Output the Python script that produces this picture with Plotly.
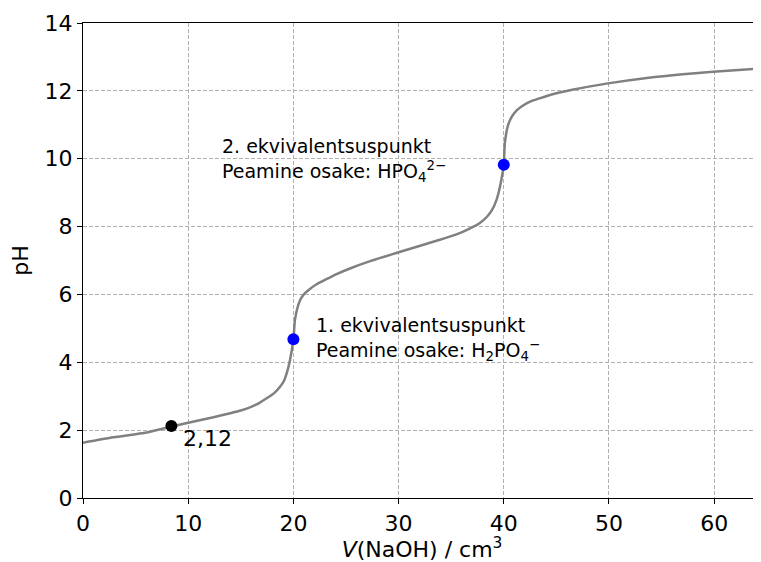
import plotly.graph_objects as go

# Titration curve
volume = [0, 2.9, 6.05, 8.34, 10.0, 12.4, 14.0, 15.0, 15.87, 16.7, 17.46, 18.2, 18.73, 19.1,
          19.36, 19.68, 20.0, 20.15, 20.47, 20.75, 21.1, 21.6, 22.2, 23.2, 24.1, 25.5, 27.3,
          30.4, 33.6, 35.5, 36.8, 37.7, 38.4, 38.9, 39.3, 39.7, 40.0, 40.1, 40.4, 40.75,
          41.2, 41.8, 42.5, 43.4, 44.4, 46.5, 49.9, 53.6, 57.0, 59.9, 64.45]
ph = [1.63, 1.79, 1.93, 2.10, 2.22, 2.38, 2.50, 2.58, 2.67, 2.79, 2.94, 3.10, 3.28, 3.45,
      3.67, 4.07, 4.68, 5.25, 5.70, 5.90, 6.04, 6.17, 6.30, 6.46, 6.60, 6.78, 6.98,
      7.28, 7.58, 7.77, 7.95, 8.10, 8.29, 8.50, 8.78, 9.27, 9.84, 10.45, 10.98, 11.23,
      11.42, 11.56, 11.68, 11.78, 11.88, 12.03, 12.22, 12.38, 12.49, 12.56, 12.66]

half_eq_v = [8.4]
half_eq_ph = [2.12]
eq_v = [20.0, 40.0]
eq_ph = [4.68, 9.82]

x_ticks = [0, 10, 20, 30, 40, 50, 60]
y_ticks = [0, 2, 4, 6, 8, 10, 12, 14]

font = "DejaVu Sans"
grid = dict(showgrid=True, gridcolor="#b0b0b0", griddash="4px,2px", gridwidth=1)

fig = go.Figure()
fig.add_trace(go.Scatter(x=volume, y=ph, mode="lines",
                         line=dict(color="#808080", width=2.5, shape="spline", smoothing=0.6),
                         showlegend=False, hoverinfo="skip"))
fig.add_trace(go.Scatter(x=half_eq_v, y=half_eq_ph, mode="markers",
                         marker=dict(color="black", size=12), showlegend=False))
fig.add_trace(go.Scatter(x=eq_v, y=eq_ph, mode="markers",
                         marker=dict(color="blue", size=12), showlegend=False))

fig.add_annotation(x=9.3, y=1.74, text="2,12", showarrow=False, xanchor="left", yanchor="middle",
                   font=dict(size=22, color="black", family=font))
fig.add_annotation(x=22.0, y=4.7, text="1. ekvivalentsuspunkt<br>Peamine osake: H<sub>2</sub>PO<sub>4</sub><sup>−</sup>",
                   showarrow=False, xanchor="left", yanchor="middle", align="left",
                   font=dict(size=19, color="black", family=font))
fig.add_annotation(x=13.0, y=9.95, text="2. ekvivalentsuspunkt<br>Peamine osake: HPO<sub>4</sub><sup>2−</sup>",
                   showarrow=False, xanchor="left", yanchor="middle", align="left",
                   font=dict(size=19, color="black", family=font))

fig.update_layout(
    width=753, height=554,
    margin=dict(l=75, r=0, t=15, b=64),
    plot_bgcolor="white", paper_bgcolor="white",
    font=dict(family=font, size=22, color="black"),
    xaxis=dict(range=[0, 64.45], tickvals=x_ticks, **grid, automargin=False,
               showline=True, linecolor="black", linewidth=1.2, mirror=True,
               ticks="outside", ticklen=5, tickcolor="black", zeroline=False,
               title=dict(text="<i>V</i>(NaOH) / cm<sup>3</sup>", standoff=15, font=dict(size=22))),
    yaxis=dict(range=[0, 14], tickvals=y_ticks, **grid, automargin=False,
               showline=True, linecolor="black", linewidth=1.2,
               ticks="outside", ticklen=5, tickcolor="black", zeroline=False,
               title=dict(text="pH", standoff=10, font=dict(size=22))),
)

fig.write_html("out.html")
